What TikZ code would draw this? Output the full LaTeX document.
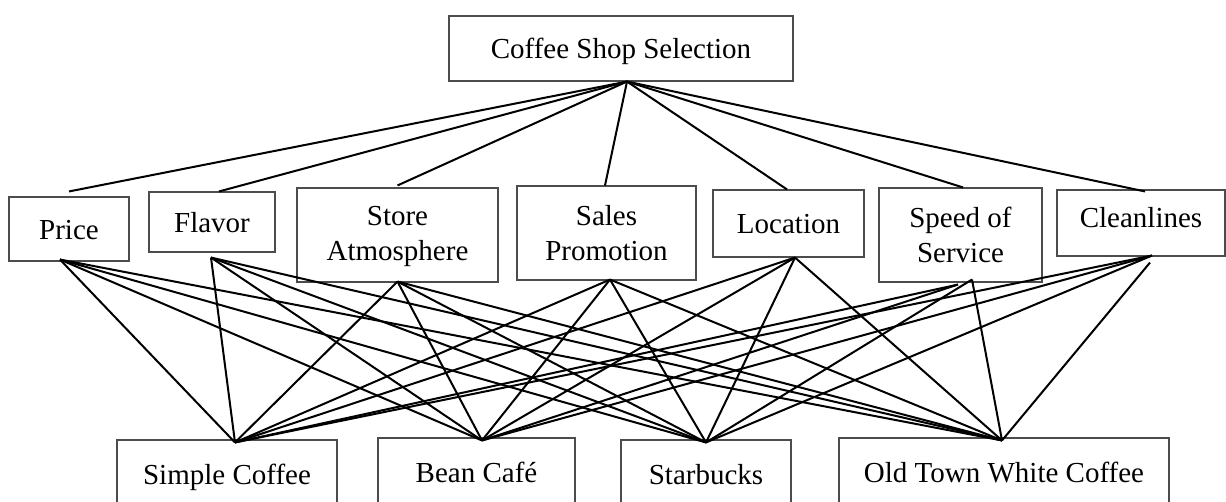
\documentclass[tikz,border=0pt]{standalone}
\usepackage{fontspec}
\setmainfont{Liberation Serif}
\begin{document}
\begin{tikzpicture}[x=1pt,y=-1pt,
  box/.style={draw=black!70, line width=1.1pt, inner sep=0pt, align=center,
    font=\fontsize{29}{35}\selectfont},
  one/.style={text height=20pt, text depth=0pt},
  link/.style={draw=black, line width=2pt}]
\useasboundingbox (0,0) rectangle (1226,501);
\clip (0,0) rectangle (1226,501);
% top
\node[box,one,minimum width=344pt,minimum height=65pt] (top) at (621,48.5) {Coffee Shop Selection};
% criteria
\node[box,one,minimum width=120pt,minimum height=64pt] (price) at (69,229) {Price};
\node[box,one,minimum width=126pt,minimum height=60pt] (flavor) at (212,222) {Flavor};
\node[box,minimum width=201pt,minimum height=94pt] (store) at (397.5,235) {\rule{0pt}{23pt}Store\\Atmosphere};
\node[box,minimum width=179pt,minimum height=94pt] (sales) at (606.5,233) {Sales\\Promotion};
\node[box,one,minimum width=151pt,minimum height=67pt] (location) at (788.5,223.5) {Location};
\node[box,minimum width=163pt,minimum height=94pt] (speed) at (960.5,235) {Speed of\\Service};
\node[box,one,text depth=12pt,minimum width=168pt,minimum height=66pt] (clean) at (1141,223) {Cleanlines};
% alternatives
\node[box,one,minimum width=220pt,minimum height=68pt] (simple) at (227,474) {Simple Coffee};
\node[box,one,minimum width=197pt,minimum height=68pt] (bean) at (476.5,472) {Bean Café};
\node[box,one,minimum width=170pt,minimum height=68pt] (star) at (706,474) {Starbucks};
\node[box,one,minimum width=330pt,minimum height=68pt] (old) at (1004,472) {Old Town White Coffee};
% connection points
\coordinate (apex) at ([xshift=6pt]top.south);
\coordinate (priceT) at ([yshift=5pt]price.north);
\coordinate (flavorT) at ([xshift=7pt]flavor.north);
\coordinate (storeT) at ([yshift=2pt]store.north);
\coordinate (salesT) at ([xshift=-1.5pt]sales.north);
\coordinate (locationT) at ([xshift=-1.5pt]location.north);
\coordinate (speedT) at ([xshift=2.5pt]speed.north);
\coordinate (cleanT) at ([xshift=4pt,yshift=-2pt]clean.north);
\coordinate (priceB) at ([xshift=-9pt,yshift=2pt]price.south);
\coordinate (flavorB) at ([xshift=-1pt,yshift=-5pt]flavor.south);
\coordinate (storeB) at ([yshift=1pt]store.south);
\coordinate (salesB) at ([xshift=3.5pt,yshift=1pt]sales.south);
\coordinate (locationB) at ([xshift=6.5pt]location.south);
\coordinate (speedA) at ([xshift=-2.5pt,yshift=-2pt]speed.south);
\coordinate (speedB) at ([xshift=11.5pt,yshift=3pt]speed.south);
\coordinate (cleanA) at ([xshift=11pt,yshift=1pt]clean.south);
\coordinate (cleanB) at ([xshift=9pt,yshift=-6pt]clean.south);
\coordinate (simpleT) at ([xshift=8pt,yshift=-3pt]simple.north);
\coordinate (beanT) at ([xshift=5.5pt,yshift=-3pt]bean.north);
\coordinate (starT) at ([yshift=-3pt]star.north);
\coordinate (oldT) at ([xshift=-2pt,yshift=-3pt]old.north);
% top links
\foreach \n in {priceT,flavorT,storeT,salesT,locationT,speedT,cleanT}
  \draw[link] (apex) -- (\n);
% criteria to alternatives
\foreach \s in {priceB,flavorB,storeB,salesB,locationB}
  \foreach \t in {simpleT,beanT,starT,oldT}
    \draw[link] (\s) -- (\t);
\draw[link] (speedA) -- (simpleT);
\draw[link] (speedA) -- (beanT);
\draw[link] (speedB) -- (starT);
\draw[link] (speedB) -- (oldT);
\draw[link] (cleanA) -- (simpleT);
\draw[link] (cleanA) -- (beanT);
\draw[link] (cleanA) -- (starT);
\draw[link] (cleanB) -- (oldT);
\end{tikzpicture}
\end{document}
